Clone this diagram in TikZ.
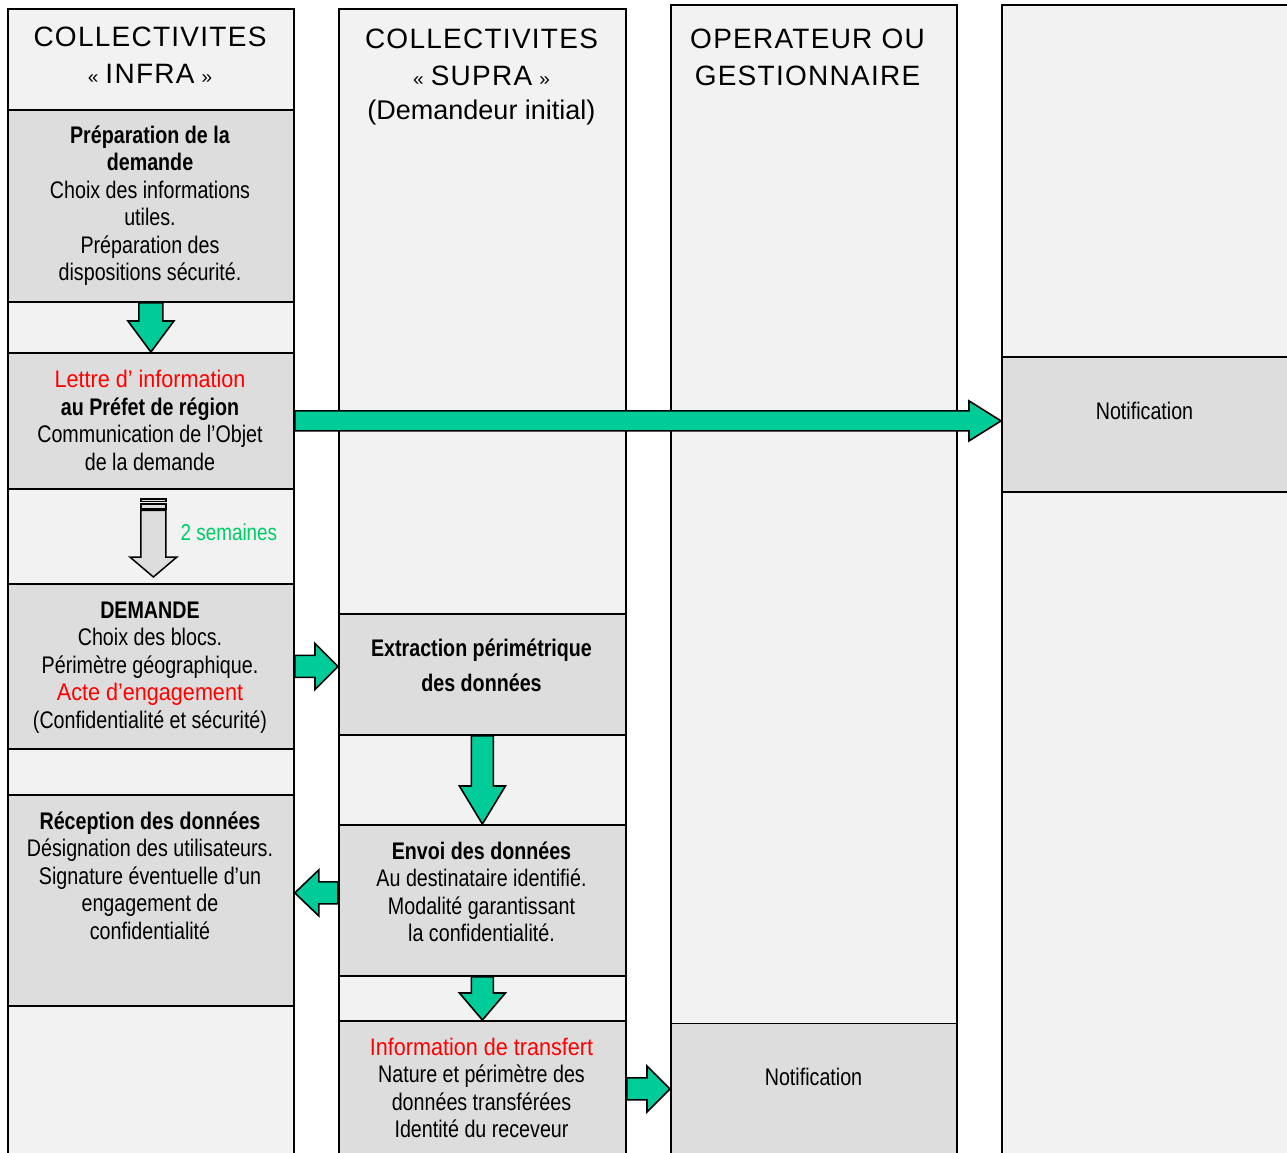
\documentclass[tikz,border=0pt]{standalone}
\usepackage{fontspec}
\setmainfont{Liberation Sans}[FakeStretch=0.82]
\newfontfamily\hdrfont{Liberation Sans}[LetterSpace=4.5]
\newfontfamily\plainfont{Liberation Sans}
\newfontfamily\redfont{Liberation Sans}[FakeStretch=0.9]
\usetikzlibrary{calc}
\definecolor{lightbg}{HTML}{F2F2F2}
\definecolor{boxbg}{HTML}{DDDDDD}
\definecolor{tealgreen}{HTML}{00CC99}
\definecolor{semgreen}{HTML}{00CC66}
\definecolor{redtxt}{HTML}{FF0000}
\newcommand\redline[1]{{\redfont\color{redtxt}#1}}
\newcommand\smallgl[1]{{\fontsize{19}{20}\selectfont #1}}
% block arrows: #1 style, #2 start, #3 tip, #4 shaft half width, #5 head half width, #6 head length
\newcommand\bdown[6]{\path[#1] let \p1=(#2), \p2=(#3) in (\x2-#4,\y1) -- (\x2+#4,\y1) -- (\x2+#4,\y2+#6) -- (\x2+#5,\y2+#6) -- (\x2,\y2) -- (\x2-#5,\y2+#6) -- (\x2-#4,\y2+#6) -- cycle;}
\newcommand\bright[6]{\path[#1] let \p1=(#2), \p2=(#3) in (\x1,\y1+#4) -- (\x2-#6,\y1+#4) -- (\x2-#6,\y1+#5) -- (\x2,\y1) -- (\x2-#6,\y1-#5) -- (\x2-#6,\y1-#4) -- (\x1,\y1-#4) -- cycle;}
\newcommand\bleft[6]{\path[#1] let \p1=(#2), \p2=(#3) in (\x1,\y1+#4) -- (\x2+#6,\y1+#4) -- (\x2+#6,\y1+#5) -- (\x2,\y1) -- (\x2+#6,\y1-#5) -- (\x2+#6,\y1-#4) -- (\x1,\y1-#4) -- cycle;}
\begin{document}
\begin{tikzpicture}[x=1pt,y=-1pt,
  colnode/.style={draw, fill=lightbg, line width=1.8pt, inner sep=0pt, anchor=north west},
  boxnode/.style={draw, fill=boxbg, line width=1.8pt, inner sep=0pt, anchor=north west},
  body/.style={align=center, inner sep=0pt, anchor=north, font=\fontsize{24}{27.5}\selectfont},
  single/.style={inner sep=0pt, anchor=base, font=\fontsize{24}{27.5}\selectfont},
  hdr/.style={inner sep=0pt, anchor=base, font=\hdrfont\fontsize{28}{34}\selectfont},
  garrow/.style={draw=black, fill=tealgreen, line width=1.6pt, line join=miter},
  grayarrow/.style={draw=black, fill=boxbg, line width=1.5pt, line join=miter}]
\useasboundingbox (0,0) rectangle (1287,1153);
\fill[white] (0,0) rectangle (1287,1153);
\begin{scope}
\clip (0,0) rectangle (1287,1153);
% columns
\node[colnode, minimum width=286pt, minimum height=1160pt] (c1) at (7,8) {};
\node[colnode, minimum width=287pt, minimum height=1160pt] (c2) at (338,8) {};
\node[colnode, minimum width=286pt, minimum height=1164pt] (c3) at (670,4) {};
\node[colnode, minimum width=289pt, minimum height=1164pt] (c4) at (1001,4) {};
% headers
\node[hdr] (h1a) at (150,46.7) {COLLECTIVITES};
\node[hdr] (h1b) at (150,84) {\smallgl{«}\hspace{7pt}INFRA\hspace{7pt}\smallgl{»}};
\node[hdr] (h2a) at (481.5,48.3) {COLLECTIVITES};
\node[hdr] (h2b) at (481.5,86) {\smallgl{«}\hspace{7pt}SUPRA\hspace{7pt}\smallgl{»}};
\node[inner sep=0pt, anchor=base, font=\plainfont\fontsize{27}{32}\selectfont] (h2c) at (481.5,119.3) {(Demandeur initial)};
\node[hdr] (h3a) at (807.5,48.3) {OPERATEUR OU};
\node[hdr] (h3b) at (807.5,86) {GESTIONNAIRE};
% boxes
\node[boxnode, minimum width=286pt, minimum height=192pt] (prep) at (7,109) {};
\node[boxnode, minimum width=286pt, minimum height=136pt] (lettre) at (7,352) {};
\node[boxnode, minimum width=286pt, minimum height=165pt] (demande) at (7,583) {};
\node[boxnode, minimum width=286pt, minimum height=211pt] (recep) at (7,794) {};
\node[boxnode, minimum width=287pt, minimum height=121pt] (extr) at (338,613) {};
\node[boxnode, minimum width=287pt, minimum height=151pt] (envoi) at (338,824) {};
\node[boxnode, minimum width=287pt, minimum height=140pt] (info) at (338,1020) {};
\node[boxnode, minimum width=286pt, minimum height=140pt] (notif3) at (670,1022.5) {};
\node[boxnode, minimum width=289pt, minimum height=135pt] (notif4) at (1001,356) {};
% texts
\node[body] (tprep) at (150,124) {\strut\textbf{Préparation de la}\\\textbf{demande}\\Choix des informations\\utiles.\\Préparation des\\dispositions sécurité.};
\node[body] (tlettre) at (150,368.4) {\strut\redline{Lettre d’ information}\\\textbf{au Préfet de région}\\Communication de l’Objet\\de la demande};
\node[body] (tdemande) at (150,599) {\strut\textbf{DEMANDE}\\Choix des blocs.\\Périmètre géographique.\\\redline{Acte d’engagement}\\(Confidentialité et sécurité)};
\node[body] (trecep) at (150,809.7) {\strut\textbf{Réception des données}\\Désignation des utilisateurs.\\Signature éventuelle d'un\\engagement de\\confidentialité};
\node[body] (textr) at (481.5,636.7) {\strut\textbf{Extraction périmétrique}\\[8.2pt]\textbf{des données}};
\node[body] (tenvoi) at (481.5,839.7) {\strut\textbf{Envoi des données}\\Au destinataire identifié.\\Modalité garantissant\\la confidentialité.};
\node[body] (tinfo) at (481.5,1035.7) {\strut\redline{Information de transfert}\\Nature et périmètre des\\données transférées\\Identité du receveur};
\node[single] (tnotif4) at (1144.5,419) {Notification};
\node[single] (tnotif3) at (813.5,1085) {Notification};
\node[inner sep=0pt, anchor=base west, font=\fontsize{23}{27.5}\selectfont, text=semgreen] (tsem) at (180.5,540.7) {2 semaines};
% green block arrows
\bdown{garrow}{prep.south}{lettre.north}{12pt}{23pt}{31pt}
\bright{garrow}{lettre.east}{notif4.west}{10pt}{20pt}{32pt}
\bright{garrow}{demande.east}{extr.west}{11pt}{23pt}{23pt}
\bdown{garrow}{extr.south}{envoi.north}{11pt}{23pt}{38pt}
\bleft{garrow}{$(envoi.west)+(0,-7.5)$}{recep.east}{11pt}{23pt}{24pt}
\bdown{garrow}{envoi.south}{info.north}{11pt}{23pt}{27pt}
\bright{garrow}{$(info.east)+(0,-2)$}{notif3.west}{11pt}{23pt}{23pt}
% striped grey arrow (2 semaines)
\coordinate (gs) at ($(lettre.south)+(2.5,9)$);
\coordinate (gt) at ($(demande.north)+(2.5,-6)$);
\path[grayarrow] let \p1=(gs) in (\x1-12.5pt,\y1) rectangle (\x1+12.5pt,\y1-2.5pt);
\path[grayarrow] let \p1=(gs) in (\x1-12.5pt,\y1-5pt) rectangle (\x1+12.5pt,\y1-10pt);
\path[grayarrow] let \p1=(gs), \p2=(gt) in (\x2-12.5pt,\y1-11.5pt) -- (\x2+12.5pt,\y1-11.5pt) -- (\x2+12.5pt,\y2+20pt) -- (\x2+23.5pt,\y2+20pt) -- (\x2,\y2) -- (\x2-23.5pt,\y2+20pt) -- (\x2-12.5pt,\y2+20pt) -- cycle;
\end{scope}
\end{tikzpicture}
\end{document}
